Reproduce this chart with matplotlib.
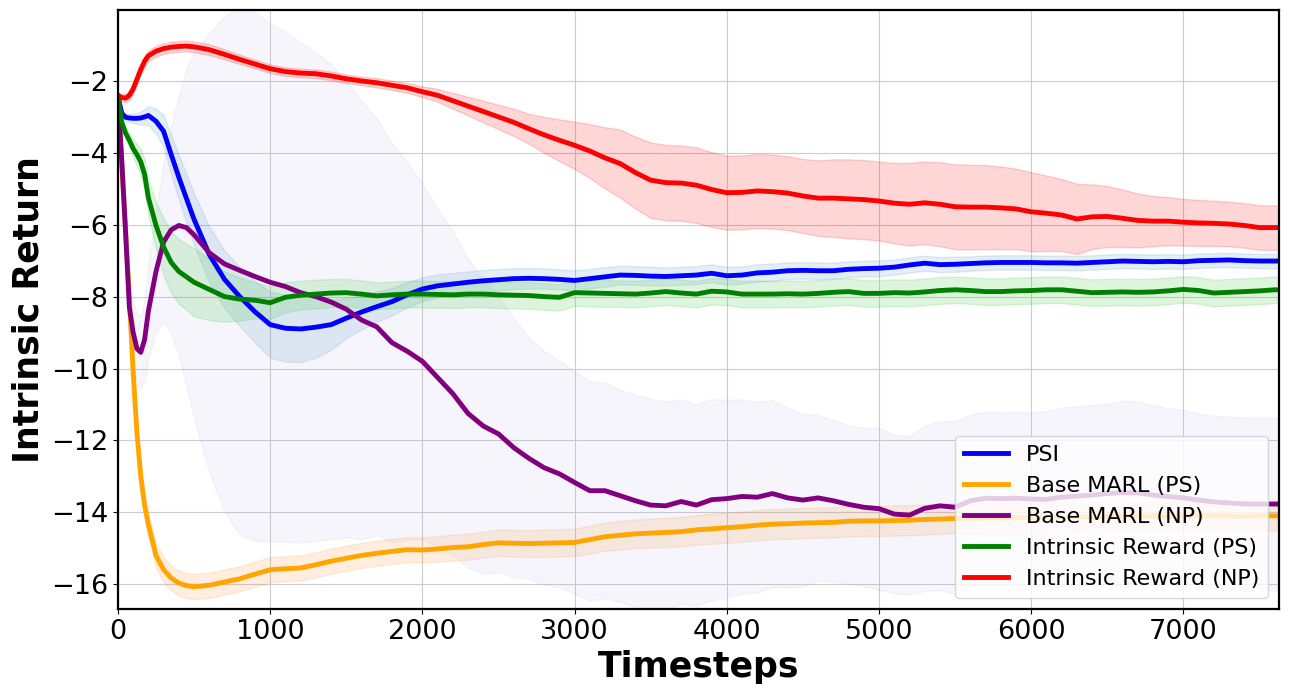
import matplotlib
matplotlib.use("Agg")
import matplotlib.pyplot as plt
import numpy as np

steps = [0, 25, 50, 75, 100, 125, 150, 175, 200, 250, 300, 350, 400, 450, 500,
         600, 700, 800, 900, 1000, 1100, 1200, 1300, 1400, 1500, 1600, 1700, 1800, 1900,
         2000, 2100, 2200, 2300, 2400, 2500, 2600, 2700, 2800, 2900,
         3000, 3100, 3200, 3300, 3400, 3500, 3600, 3700, 3800, 3900,
         4000, 4100, 4200, 4300, 4400, 4500, 4600, 4700, 4800, 4900,
         5000, 5100, 5200, 5300, 5400, 5500, 5600, 5700, 5800, 5900,
         6000, 6100, 6200, 6300, 6400, 6500, 6600, 6700, 6800, 6900,
         7000, 7100, 7200, 7300, 7400, 7500, 7600, 7630]

psi_mean = [-2.42, -2.90, -3.01, -3.03, -3.04, -3.04, -3.03, -3.00, -2.96, -3.12, -3.40, -4.05, -4.68, -5.27, -5.85,
            -6.83, -7.52, -8.00, -8.42, -8.78, -8.88, -8.90, -8.85, -8.78, -8.60, -8.43, -8.28, -8.14, -7.95,
            -7.79, -7.70, -7.65, -7.60, -7.56, -7.53, -7.50, -7.49, -7.50, -7.52,
            -7.55, -7.50, -7.45, -7.40, -7.41, -7.43, -7.44, -7.42, -7.40, -7.35,
            -7.42, -7.40, -7.34, -7.32, -7.28, -7.27, -7.28, -7.28, -7.24, -7.22,
            -7.21, -7.18, -7.12, -7.07, -7.11, -7.10, -7.08, -7.06, -7.05, -7.05,
            -7.05, -7.06, -7.06, -7.07, -7.05, -7.03, -7.01, -7.02, -7.03, -7.02,
            -7.03, -7.00, -6.99, -6.98, -7.00, -7.01, -7.01, -7.01]
psi_std = [0.05, 0.08, 0.10, 0.12, 0.13, 0.15, 0.18, 0.22, 0.26, 0.35, 0.45, 0.55, 0.62, 0.68, 0.72,
           0.78, 0.80, 0.82, 0.86, 0.92, 0.93, 0.92, 0.85, 0.70, 0.55, 0.48, 0.42, 0.38, 0.35,
           0.33, 0.32, 0.31, 0.30, 0.30, 0.30, 0.29, 0.29, 0.28, 0.28,
           0.28, 0.27, 0.27, 0.26, 0.26, 0.26, 0.25, 0.25, 0.25, 0.25,
           0.25, 0.24, 0.24, 0.24, 0.23, 0.23, 0.23, 0.22, 0.22, 0.22,
           0.22, 0.21, 0.21, 0.21, 0.21, 0.21, 0.20, 0.20, 0.20, 0.20,
           0.20, 0.20, 0.20, 0.20, 0.20, 0.20, 0.20, 0.20, 0.20, 0.20,
           0.20, 0.20, 0.20, 0.20, 0.20, 0.20, 0.20, 0.20]

base_ps_mean = [-2.42, -4.30, -6.10, -8.05, -10.10, -11.80, -13.00, -13.80, -14.35, -15.20, -15.60, -15.83, -15.97, -16.04, -16.07,
                -16.03, -15.94, -15.85, -15.72, -15.60, -15.57, -15.55, -15.46, -15.36, -15.28, -15.20, -15.14, -15.09, -15.04,
                -15.05, -15.02, -14.98, -14.96, -14.90, -14.85, -14.86, -14.87, -14.86, -14.85,
                -14.84, -14.76, -14.68, -14.64, -14.60, -14.58, -14.56, -14.54, -14.49, -14.46,
                -14.43, -14.40, -14.36, -14.33, -14.32, -14.30, -14.29, -14.28, -14.25, -14.24,
                -14.24, -14.23, -14.22, -14.20, -14.19, -14.17, -14.17, -14.16, -14.16, -14.15,
                -14.15, -14.14, -14.14, -14.13, -14.13, -14.12, -14.12, -14.11, -14.11, -14.11,
                -14.11, -14.10, -14.10, -14.10, -14.11, -14.10, -14.10, -14.10]
base_ps_std = [0.05, 0.10, 0.15, 0.20, 0.25, 0.28, 0.30, 0.32, 0.33, 0.34, 0.35, 0.35, 0.35, 0.35, 0.35,
               0.35, 0.35, 0.35, 0.35, 0.35, 0.35, 0.35, 0.35, 0.35, 0.35, 0.35, 0.35, 0.35, 0.35,
               0.35, 0.35, 0.36, 0.36, 0.36, 0.37, 0.37, 0.37, 0.38, 0.38,
               0.38, 0.39, 0.39, 0.40, 0.40, 0.40, 0.41, 0.41, 0.41, 0.42,
               0.42, 0.42, 0.42, 0.42, 0.42, 0.42, 0.42, 0.42, 0.42, 0.42,
               0.42, 0.42, 0.42, 0.42, 0.41, 0.41, 0.41, 0.41, 0.41, 0.41,
               0.41, 0.41, 0.41, 0.40, 0.40, 0.40, 0.40, 0.40, 0.40, 0.40,
               0.40, 0.40, 0.40, 0.40, 0.40, 0.40, 0.40, 0.40]

base_np_mean = [-2.42, -4.20, -6.20, -8.30, -9.00, -9.45, -9.55, -9.20, -8.40, -7.30, -6.48, -6.14, -6.02, -6.08, -6.28,
                -6.78, -7.09, -7.27, -7.44, -7.60, -7.72, -7.89, -8.00, -8.15, -8.35, -8.65, -8.84, -9.28, -9.52,
                -9.80, -10.25, -10.70, -11.25, -11.60, -11.82, -12.20, -12.50, -12.76, -12.93,
                -13.17, -13.40, -13.40, -13.54, -13.68, -13.80, -13.82, -13.70, -13.80, -13.65,
                -13.62, -13.56, -13.58, -13.48, -13.60, -13.66, -13.60, -13.68, -13.78, -13.86,
                -13.90, -14.05, -14.08, -13.89, -13.82, -13.86, -13.68, -13.61, -13.62, -13.61,
                -13.63, -13.64, -13.58, -13.55, -13.52, -13.48, -13.45, -13.46, -13.52, -13.56,
                -13.60, -13.66, -13.71, -13.74, -13.77, -13.77, -13.77, -13.77]
base_np_std = [0.05, 0.30, 0.60, 0.80, 0.90, 0.97, 1.00, 1.15, 1.30, 1.70, 2.20, 2.90, 3.60, 4.40, 5.10,
               6.10, 6.90, 7.35, 7.35, 7.20, 7.10, 6.95, 6.80, 6.60, 6.35, 6.10, 5.80, 5.55, 5.25,
               4.95, 4.70, 4.50, 4.30, 4.10, 3.85, 3.60, 3.35, 3.25, 3.15,
               3.10, 3.05, 3.00, 2.95, 2.95, 2.95, 2.90, 2.85, 2.80, 2.80,
               2.75, 2.70, 2.65, 2.60, 2.50, 2.40, 2.30, 2.25, 2.20, 2.20,
               2.25, 2.20, 2.20, 2.30, 2.35, 2.40, 2.40, 2.40, 2.40, 2.40,
               2.40, 2.45, 2.50, 2.50, 2.50, 2.50, 2.55, 2.55, 2.50, 2.45,
               2.45, 2.40, 2.40, 2.40, 2.40, 2.40, 2.40, 2.40]

ir_ps_mean = [-2.42, -3.15, -3.45, -3.65, -3.88, -4.05, -4.25, -4.60, -5.25, -6.02, -6.62, -7.05, -7.30, -7.45, -7.60,
              -7.80, -8.00, -8.07, -8.10, -8.17, -8.02, -7.96, -7.93, -7.90, -7.89, -7.93, -7.98, -7.95, -7.93,
              -7.93, -7.94, -7.95, -7.93, -7.93, -7.95, -7.96, -7.97, -8.00, -8.02,
              -7.89, -7.90, -7.91, -7.92, -7.93, -7.90, -7.86, -7.90, -7.93, -7.85,
              -7.87, -7.93, -7.93, -7.93, -7.92, -7.93, -7.91, -7.88, -7.86, -7.91,
              -7.91, -7.89, -7.90, -7.87, -7.83, -7.81, -7.83, -7.86, -7.86, -7.84,
              -7.83, -7.81, -7.81, -7.85, -7.89, -7.88, -7.87, -7.88, -7.87, -7.84,
              -7.80, -7.83, -7.90, -7.88, -7.86, -7.84, -7.81, -7.81]
ir_ps_std = [0.05, 0.10, 0.15, 0.20, 0.25, 0.30, 0.35, 0.42, 0.50, 0.65, 0.80, 0.85, 0.90, 0.92, 0.95,
             0.85, 0.70, 0.60, 0.50, 0.45, 0.42, 0.40, 0.40, 0.39, 0.38, 0.38, 0.37, 0.37, 0.37,
             0.37, 0.37, 0.37, 0.37, 0.37, 0.37, 0.37, 0.37, 0.37, 0.37,
             0.37, 0.37, 0.37, 0.37, 0.37, 0.37, 0.37, 0.37, 0.37, 0.37,
             0.37, 0.37, 0.37, 0.37, 0.37, 0.37, 0.37, 0.37, 0.37, 0.37,
             0.37, 0.37, 0.37, 0.37, 0.37, 0.37, 0.37, 0.37, 0.37, 0.37,
             0.37, 0.37, 0.37, 0.37, 0.37, 0.37, 0.37, 0.37, 0.37, 0.37,
             0.37, 0.37, 0.37, 0.37, 0.37, 0.37, 0.37, 0.37]

ir_np_mean = [-2.42, -2.46, -2.48, -2.40, -2.22, -1.95, -1.68, -1.45, -1.30, -1.17, -1.10, -1.06, -1.04, -1.03, -1.05,
              -1.13, -1.26, -1.40, -1.53, -1.66, -1.74, -1.78, -1.80, -1.86, -1.94, -2.00, -2.05, -2.12, -2.19,
              -2.30, -2.40, -2.55, -2.70, -2.85, -3.00, -3.15, -3.33, -3.50, -3.65,
              -3.79, -3.95, -4.14, -4.30, -4.55, -4.76, -4.83, -4.84, -4.90, -5.02,
              -5.11, -5.10, -5.06, -5.08, -5.12, -5.20, -5.26, -5.26, -5.28, -5.30,
              -5.34, -5.40, -5.43, -5.39, -5.43, -5.50, -5.51, -5.51, -5.53, -5.56,
              -5.64, -5.68, -5.73, -5.84, -5.78, -5.77, -5.82, -5.88, -5.90, -5.90,
              -5.93, -5.95, -5.96, -5.98, -6.02, -6.08, -6.08, -6.08]
ir_np_std = [0.08, 0.10, 0.12, 0.12, 0.13, 0.14, 0.15, 0.15, 0.15, 0.15, 0.15, 0.15, 0.15, 0.15, 0.15,
             0.15, 0.14, 0.13, 0.12, 0.12, 0.12, 0.12, 0.12, 0.12, 0.12, 0.12, 0.13, 0.13, 0.14,
             0.15, 0.18, 0.22, 0.26, 0.30, 0.34, 0.38, 0.42, 0.50, 0.58,
             0.66, 0.75, 0.85, 0.95, 1.00, 1.05, 1.05, 1.05, 1.05, 1.04,
             1.03, 1.03, 1.03, 1.03, 1.03, 1.03, 1.05, 1.08, 1.10, 1.10,
             1.10, 1.12, 1.15, 1.15, 1.17, 1.18, 1.18, 1.17, 1.15, 1.12,
             1.10, 1.05, 1.00, 0.98, 0.90, 0.85, 0.80, 0.75, 0.70, 0.67,
             0.65, 0.64, 0.63, 0.62, 0.62, 0.62, 0.62, 0.62]

labels = ["PSI", "Base MARL (PS)", "Base MARL (NP)", "Intrinsic Reward (PS)", "Intrinsic Reward (NP)"]
means = [psi_mean, base_ps_mean, base_np_mean, ir_ps_mean, ir_np_mean]
stds = [psi_std, base_ps_std, base_np_std, ir_ps_std, ir_np_std]
line_colors = ["blue", "orange", "purple", "green", "red"]
fill_colors = ["#1f77b4", "#ff7f0e", "#9999dd", "#44cc44", "red"]
fill_alphas = [0.12, 0.13, 0.09, 0.18, 0.16]

fig = plt.figure(figsize=(12.89, 6.97), dpi=100)
ax = fig.add_axes([0.0915, 0.1263, 0.9010, 0.8594])

x = np.array(steps)
for lab, m, s, lc, fc, fa in zip(labels, means, stds, line_colors, fill_colors, fill_alphas):
    m = np.array(m)
    s = np.array(s)
    ax.fill_between(x, m - s, m + s, color=fc, alpha=fa, linewidth=1)
    ax.plot(x, m, color=lc, linewidth=3.5, label=lab)

ax.set_xlim(0, 7630)
ax.set_ylim(-16.69, -0.025)
ax.set_xticks([0, 1000, 2000, 3000, 4000, 5000, 6000, 7000])
ax.set_yticks([-16, -14, -12, -10, -8, -6, -4, -2])
ax.tick_params(axis="both", labelsize=19.5)
ax.grid(True, color="#cccccc", linewidth=0.8)
ax.set_axisbelow(True)
for sp in ax.spines.values():
    sp.set_linewidth(1.6)
ax.set_xlabel("Timesteps", fontsize=25, fontweight="bold", labelpad=4)
ax.set_ylabel("Intrinsic Return", fontsize=25, fontweight="bold", labelpad=4)
ax.legend(loc="lower right", fontsize=16)

fig.savefig("out.png", dpi=100)
